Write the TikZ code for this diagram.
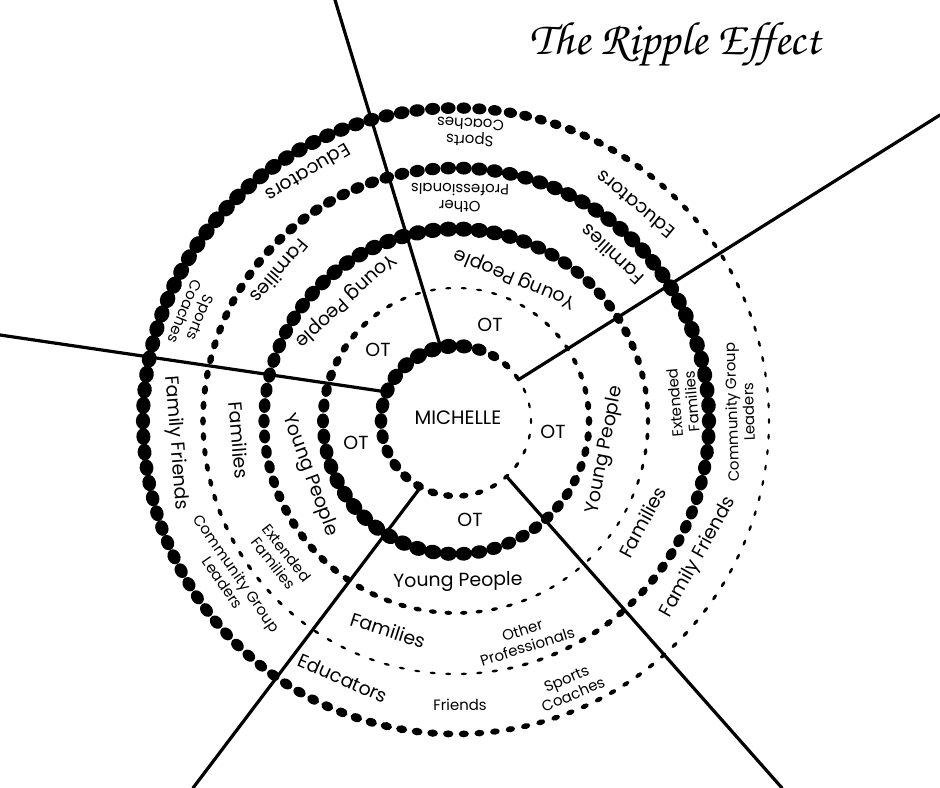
\documentclass[tikz,border=0pt]{standalone}
\usepackage{fontspec}
\setmainfont{Poppins}

\begin{document}
\begin{tikzpicture}[x=1bp,y=1bp,line cap=round,line join=round,
  spoke/.style={line width=3.2bp,black},
  centrelbl/.style={font=\fontsize{19.5}{21}\selectfont,inner sep=0pt},
  ringbig/.style={font=\fontsize{19}{21}\selectfont,inner sep=0pt},
  ringsmall/.style={font=\fontsize{15}{17}\selectfont,inner sep=0pt,align=center},
  title/.style={font=\fontencoding{T1}\fontfamily{pzc}\fontsize{47}{50}\selectfont,inner sep=0pt}]
\path[use as bounding box] (-456,-367) rectangle (484,421);
\fill[white] (-456,-367) rectangle (484,421);

% rings of dots: radius / thinnest angle / rise to thickest / number of dots
\foreach \rad/\lo/\rise/\num in {75/15/85/30,133/90/135/54,192/325/130/78,253/265/115/102,313/0/140/126} {
  \foreach \i in {1,...,\num} {
    \pgfmathsetmacro\ang{360/\num*\i}
    \pgfmathsetmacro\pos{mod(\ang-\lo+720,360)}
    \pgfmathsetmacro\lvl{\pos<\rise ? \pos/\rise : (360-\pos)/(360-\rise)}
    \pgfmathsetmacro\sm{(1-cos(180*\lvl))/2}
    \pgfmathsetmacro\rw{1.2+6.4*\sm}
    \pgfmathsetmacro\tl{3+6*\sm}
    \fill[rotate=\ang] (\rad,0) ellipse ({\rw} and {\tl});
  }
}

% spokes from the centre ring to the edge
\foreach \nm/\ix/\iy/\ox/\oy in {A/-16/76/-121/421,B/62/41/484/306,C/-69/29/-456/86,D/-36/-67/-263/-367,E/51/-56/326/-367} {
  \coordinate (spoke\nm-in) at (\ix,\iy);
  \coordinate (spoke\nm-out) at (\ox,\oy);
  \draw[spoke] (spoke\nm-in) -- (spoke\nm-out);
}

% centre and first ring
\node[centrelbl] (michelle) at (2,3) {MICHELLE};
\foreach \x/\y [count=\k] in {34/96,-78/71,-100/-22,97/-11,14/-99}
  \node[ringbig] (ot-\k) at (\x,\y) {OT};

% second ring
\foreach \dir/\dist [count=\k] in {67.6/155,132.5/164,200.3/156,-11/152,-89.3/161}
  \node[ringbig,rotate=\dir+90] (young-\k) at (\dir:\dist) {Young People};

% third ring
\foreach \dir/\dist [count=\k] in {46.8/228,139.7/231,185/218,252/220,-28.5/212}
  \node[ringbig,rotate=\dir+90] (fam-\k) at (\dir:\dist) {Families};
\foreach \dir/\dist/\txt [count=\k] in {89/223/{Other\\Professionals},217.9/223/{Extended\\Families},
    287.6/228/{Other\\Professionals},4.8/228/{Extended\\Families}}
  \node[ringsmall,rotate=\dir+90] (third-\k) at (\dir:\dist) {\txt};

% fourth ring
\foreach \dir/\dist/\txt [count=\k] in {50.4/281/Educators,120.8/289/Educators,246.3/281/Educators,
    184.5/281/Family Friends,-29.3/278/Family Friends}
  \node[ringbig,rotate=\dir+90] (outer-\k) at (\dir:\dist) {\txt};
\foreach \dir/\dist/\txt [count=\k] in {87.2/289/{Sports\\Coaches},158/284/{Sports\\Coaches},
    293.2/289/{Sports\\Coaches},214.8/275/{Community Group\\Leaders},1.8/284/{Community Group\\Leaders},
    270.8/284/Friends}
  \node[ringsmall,rotate=\dir+90] (fourth-\k) at (\dir:\dist) {\txt};

% title
\node[title] (heading) at (219,376) {The Ripple Effect};
\end{tikzpicture}
\end{document}
